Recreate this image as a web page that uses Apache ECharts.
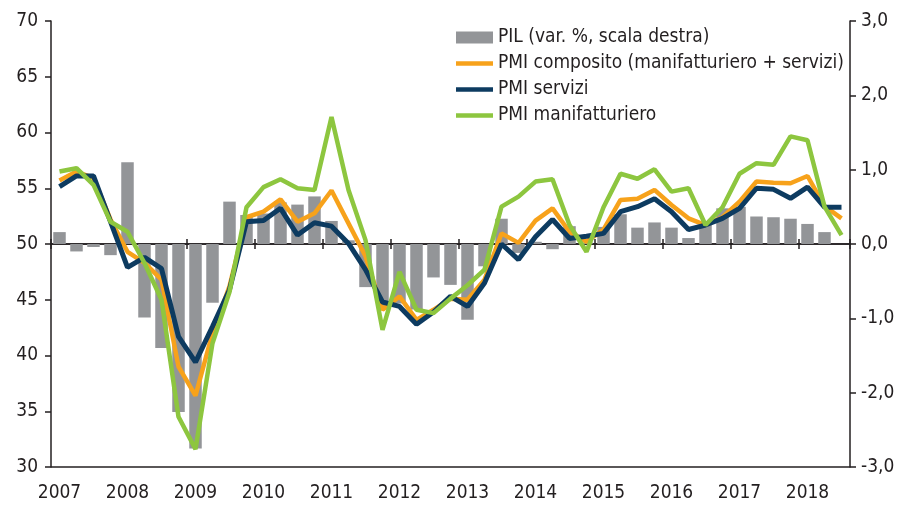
<!DOCTYPE html>
<html>
<head>
<meta charset="utf-8">
<script src="https://cdn.jsdelivr.net/npm/echarts@6/dist/echarts.min.js"></script>
<style>
  html, body { margin: 0; padding: 0; background: #fff; }
  #main { width: 899px; height: 508px; }
</style>
</head>
<body>
<div id="main"></div>
<script>
// anni e trimestri (2007 T1 .. 2018 T3)
var years = ['2007','2008','2009','2010','2011','2012','2013','2014','2015','2016','2017','2018'];
var quarters = [];
years.forEach(function (y) {
    ['T1','T2','T3','T4'].forEach(function (q) { quarters.push(y + ' ' + q); });
});
quarters = quarters.slice(0, 47);

// PIL, var. % trimestrale (scala destra)
var pil = [
    0.16, -0.10, -0.04, -0.15,
    1.10, -0.99, -1.40, -2.26,
    -2.75, -0.79, 0.57, 0.39,
    0.41, 0.56, 0.53, 0.64,
    0.31, 0.05, -0.58, -0.85,
    -0.80, -0.88, -0.45, -0.55,
    -1.02, -0.30, 0.34, -0.12,
    0.03, -0.07, 0.24, 0.02,
    0.23, 0.40, 0.22, 0.29,
    0.22, 0.08, 0.27, 0.48,
    0.50, 0.37, 0.36, 0.34,
    0.27, 0.16
];

var pmiComposito = [
    55.7, 56.5, 55.9, 52.2,
    49.3, 48.3, 46.8, 39.0,
    36.4, 42.0, 46.2, 52.4,
    52.9, 54.0, 52.0, 52.75,
    54.8, 51.85, 48.9, 44.1,
    45.3, 43.2, 44.1, 45.1,
    45.0, 46.8, 50.95, 50.1,
    52.1, 53.2, 51.1, 50.2,
    51.3, 53.95, 54.05, 54.85,
    53.5, 52.3, 51.7, 52.4,
    53.8, 55.6, 55.5, 55.45,
    56.1, 53.4, 52.3
];

var pmiServizi = [
    55.15, 56.1, 56.1, 52.0,
    47.9, 48.8, 47.8, 41.7,
    39.4, 42.6, 45.9, 52.0,
    52.1, 53.2, 50.8, 51.9,
    51.6, 50.05, 47.7, 44.8,
    44.4, 42.8, 43.9, 45.3,
    44.4, 46.5, 50.0, 48.6,
    50.65, 52.2, 50.5, 50.7,
    50.95, 52.9, 53.35, 54.05,
    52.9, 51.3, 51.7, 52.3,
    53.2, 55.0, 54.9, 54.1,
    55.1, 53.3, 53.3
];

var pmiManifatturiero = [
    56.5, 56.8, 55.3, 52.0,
    51.1, 48.3, 45.0, 34.5,
    31.6, 41.1, 45.7, 53.3,
    55.1, 55.8, 55.0, 54.85,
    61.4, 54.85, 50.35, 42.3,
    47.5, 44.1, 43.8, 45.1,
    46.3, 47.7, 53.35, 54.25,
    55.6, 55.8, 51.7, 49.3,
    53.3, 56.3, 55.85, 56.7,
    54.7, 55.0, 51.7, 53.3,
    56.3, 57.25, 57.1, 59.65,
    59.3, 53.35, 50.8
];

var fontName = '"Liberation Sans Narrow", "DejaVu Sans Condensed", "Noto Sans", sans-serif';
var ink = '#231f20';
// icona legenda per le linee: barra sottile centrata in un riquadro 37x12
var lineIcon = 'path://M0,0 M37,12 M0,3.8 L37,3.8 L37,8.2 L0,8.2 Z';

var myChart = echarts.init(document.getElementById('main'));

var option = {
    animation: false,
    textStyle: { fontFamily: fontName },
    grid: { left: 51, right: 49, top: 21, bottom: 41, containLabel: false, outerBoundsMode: 'none' },
    legend: {
        orient: 'vertical',
        left: 451,
        top: 23,
        itemGap: 7,
        itemWidth: 37,
        itemHeight: 12,
        textStyle: { fontFamily: fontName, fontSize: 19, color: ink },
        data: [
            { name: 'PIL (var. %, scala destra)', icon: 'rect' },
            { name: 'PMI composito (manifatturiero + servizi)', icon: lineIcon },
            { name: 'PMI servizi', icon: lineIcon },
            { name: 'PMI manifatturiero', icon: lineIcon }
        ]
    },
    xAxis: [
        {
            type: 'category',
            data: quarters,
            position: 'bottom',
            boundaryGap: true,
            axisLine: { onZero: true, onZeroAxisIndex: 1, lineStyle: { color: ink, width: 1.5 } },
            axisTick: { show: true, interval: 3, length: 5, lineStyle: { color: ink, width: 1.5 } },
            axisLabel: {
                interval: 3,
                margin: 17,
                fontSize: 19,
                color: ink,
                formatter: function (v) { return v.substring(0, 4); }
            }
        },
        {
            type: 'category',
            data: quarters,
            position: 'top',
            boundaryGap: true,
            axisLine: { onZero: true, onZeroAxisIndex: 1, lineStyle: { color: ink, width: 1.5 } },
            axisTick: { show: true, interval: 3, length: 5, lineStyle: { color: ink, width: 1.5 } },
            axisLabel: { show: false }
        }
    ],
    yAxis: [
        {
            type: 'value',
            min: 30, max: 70, interval: 5,
            axisLine: { show: true, onZero: false, lineStyle: { color: ink, width: 1.5 } },
            axisTick: { show: true, length: 6, lineStyle: { color: ink, width: 1.5 } },
            axisLabel: { margin: 13, fontSize: 19, color: ink },
            splitLine: { show: false }
        },
        {
            type: 'value',
            min: -3, max: 3, interval: 1,
            position: 'right',
            axisLine: { show: true, onZero: false, lineStyle: { color: ink, width: 1.5 } },
            axisTick: { show: true, length: 6, lineStyle: { color: ink, width: 1.5 } },
            axisLabel: {
                margin: 11, fontSize: 19, color: ink,
                formatter: function (v) { return v.toFixed(1).replace('.', ','); }
            },
            splitLine: { show: false }
        }
    ],
    series: [
        {
            name: 'PIL (var. %, scala destra)',
            type: 'bar',
            yAxisIndex: 1,
            data: pil,
            barWidth: 12.5,
            itemStyle: { color: '#939598' },
            markLine: {
                silent: true,
                symbol: 'none',
                label: { show: false },
                lineStyle: { color: ink, width: 1.5, type: 'solid' },
                data: [{ yAxis: -3 }]
            }
        },
        {
            name: 'PMI composito (manifatturiero + servizi)',
            type: 'line',
            data: pmiComposito,
            symbol: 'none',
            lineStyle: { color: '#f7a21b', width: 4.5 },
            itemStyle: { color: '#f7a21b' }
        },
        {
            name: 'PMI servizi',
            type: 'line',
            data: pmiServizi,
            symbol: 'none',
            lineStyle: { color: '#0d3b60', width: 5 },
            itemStyle: { color: '#0d3b60' }
        },
        {
            name: 'PMI manifatturiero',
            type: 'line',
            data: pmiManifatturiero,
            symbol: 'none',
            lineStyle: { color: '#8dc63f', width: 4.5 },
            itemStyle: { color: '#8dc63f' }
        }
    ]
};

myChart.setOption(option);
</script>
</body>
</html>
